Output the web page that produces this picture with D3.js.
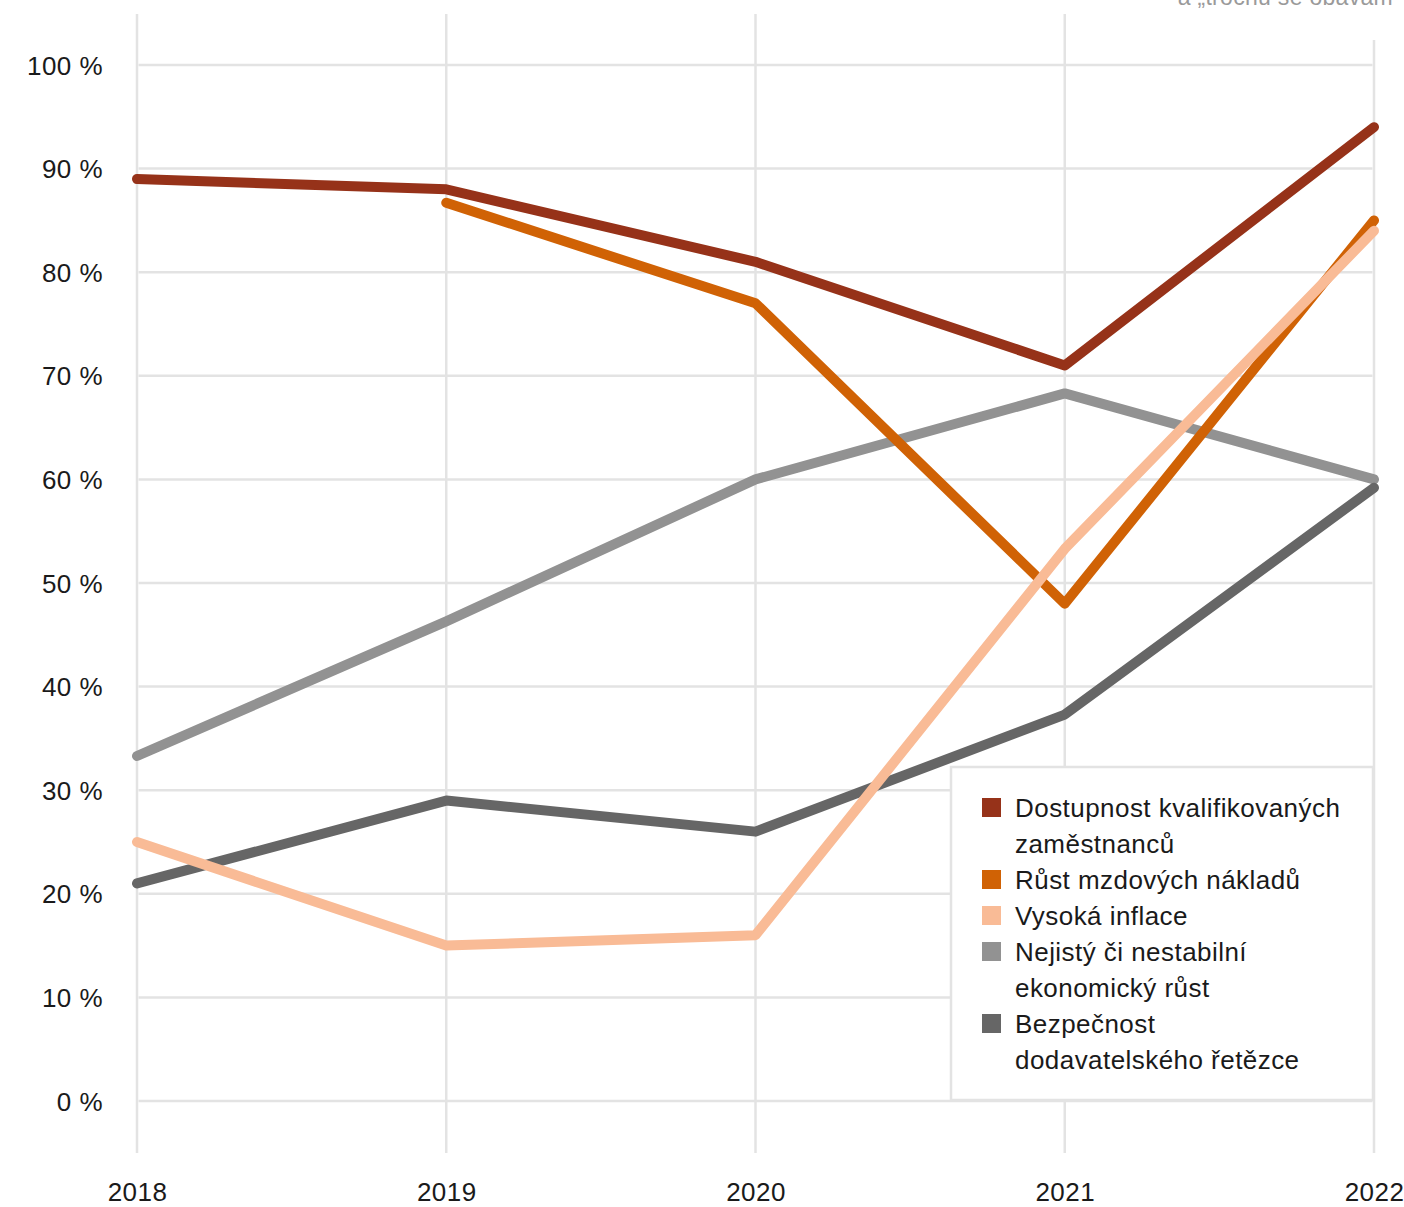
<!DOCTYPE html>
<html>
<head>
<meta charset="utf-8">
<script src="https://cdn.jsdelivr.net/npm/d3@7"></script>
<style>
  html, body { margin: 0; padding: 0; background: #fff; }
  svg { display: block; font-family: "Liberation Sans", Arial, Helvetica, sans-serif; }
</style>
</head>
<body>
<svg id="chart" width="1404" height="1207"></svg>
<script>
const years = [2018, 2019, 2020, 2021, 2022];
const yTicks = [0, 10, 20, 30, 40, 50, 60, 70, 80, 90, 100];
const seriesNames = [
  ["Dostupnost kvalifikovaných", "zaměstnanců"],
  ["Růst mzdových nákladů"],
  ["Vysoká inflace"],
  ["Nejistý či nestabilní", "ekonomický růst"],
  ["Bezpečnost", "dodavatelského řetězce"]
];
const seriesColors = ["#963219", "#d06205", "#f9bb96", "#929292", "#666666"];
const dostupnost = [89, 88, 81, 71, 94];
const rustMezd = [null, 86.7, 77, 48, 85];
const inflace = [25, 15, 16, 53.3, 84];
const nejisty = [33.3, 46.3, 60, 68.3, 60];
const bezpecnost = [21, 29, 26, 37.3, 59.2];
const seriesValues = [dostupnost, rustMezd, inflace, nejisty, bezpecnost];
const drawOrder = [3, 4, 0, 1, 2];
const subtitleTail = "a „trochu se obávám“";

const svg = d3.select("#chart");
const x = d3.scalePoint().domain(years).range([137, 1374]);
const y = d3.scaleLinear().domain([0, 100]).range([1101, 65]);
const gridColor = "#e3e3e3";
const textColor = "#1a1a1a";
const fontSize = 26;
const ls = 0.45;

// vertical gridlines
svg.append("g").selectAll("line").data(years).join("line")
  .attr("x1", d => x(d)).attr("x2", d => x(d))
  .attr("y1", 14).attr("y2", 1153)
  .attr("stroke", gridColor).attr("stroke-width", 2.5);

// horizontal gridlines
svg.append("g").selectAll("line").data(yTicks).join("line")
  .attr("x1", 138.5).attr("x2", 1372.5)
  .attr("y1", d => y(d)).attr("y2", d => y(d))
  .attr("stroke", gridColor).attr("stroke-width", 2.5);

// y axis labels
const yAxis = d3.axisLeft(y).tickValues(yTicks).tickSize(0).tickPadding(0)
  .tickFormat(d => d + " %");
svg.append("g").attr("transform", "translate(103,0)").call(yAxis)
  .call(g => g.select(".domain").remove())
  .call(g => g.selectAll("text").attr("font-size", fontSize).attr("fill", textColor)
    .attr("letter-spacing", ls)
    .attr("font-family", "'Liberation Sans', Arial, sans-serif").attr("dy", "0.35em"));

// x axis labels
const xAxis = d3.axisBottom(x).tickSize(0).tickPadding(0).tickFormat(d3.format("d"));
svg.append("g").attr("transform", "translate(0,1182)").call(xAxis)
  .call(g => g.select(".domain").remove())
  .call(g => g.selectAll("text").attr("font-size", fontSize).attr("fill", textColor)
    .attr("letter-spacing", ls)
    .attr("font-family", "'Liberation Sans', Arial, sans-serif").attr("dy", "0.72em"));

// lines
const line = d3.line()
  .defined(d => d.v != null)
  .x(d => x(d.year)).y(d => y(d.v));
svg.append("g").selectAll("path").data(drawOrder).join("path")
  .attr("d", i => line(years.map((yr, j) => ({year: yr, v: seriesValues[i][j]}))))
  .attr("fill", "none")
  .attr("stroke", i => seriesColors[i])
  .attr("stroke-width", 10)
  .attr("stroke-linecap", "round")
  .attr("stroke-linejoin", "round");

// legend
const lg = svg.append("g");
lg.append("rect").attr("x", 951).attr("y", 767).attr("width", 422).attr("height", 333)
  .attr("fill", "#fff").attr("stroke", gridColor).attr("stroke-width", 2.5);
let lineIdx = 0;
const baseY = 817, lh = 36;
seriesNames.forEach((lines, i) => {
  const by = baseY + lineIdx * lh;
  lg.append("rect").attr("x", 982).attr("y", by - 19).attr("width", 19).attr("height", 19)
    .attr("fill", seriesColors[i]);
  lines.forEach((t, k) => {
    lg.append("text").attr("x", 1015).attr("y", by + k * lh)
      .attr("font-size", fontSize).attr("letter-spacing", ls)
      .attr("fill", textColor).text(t);
  });
  lineIdx += lines.length;
});

// clipped subtitle at top
svg.append("rect").attr("x", 1160).attr("y", 0).attr("width", 244).attr("height", 40).attr("fill", "#fff");
svg.append("text").attr("x", 1401).attr("y", 5).attr("text-anchor", "end")
  .attr("font-size", 23).attr("letter-spacing", 0.3)
  .attr("fill", "#9a9a9a").text(subtitleTail);
</script>
</body>
</html>
